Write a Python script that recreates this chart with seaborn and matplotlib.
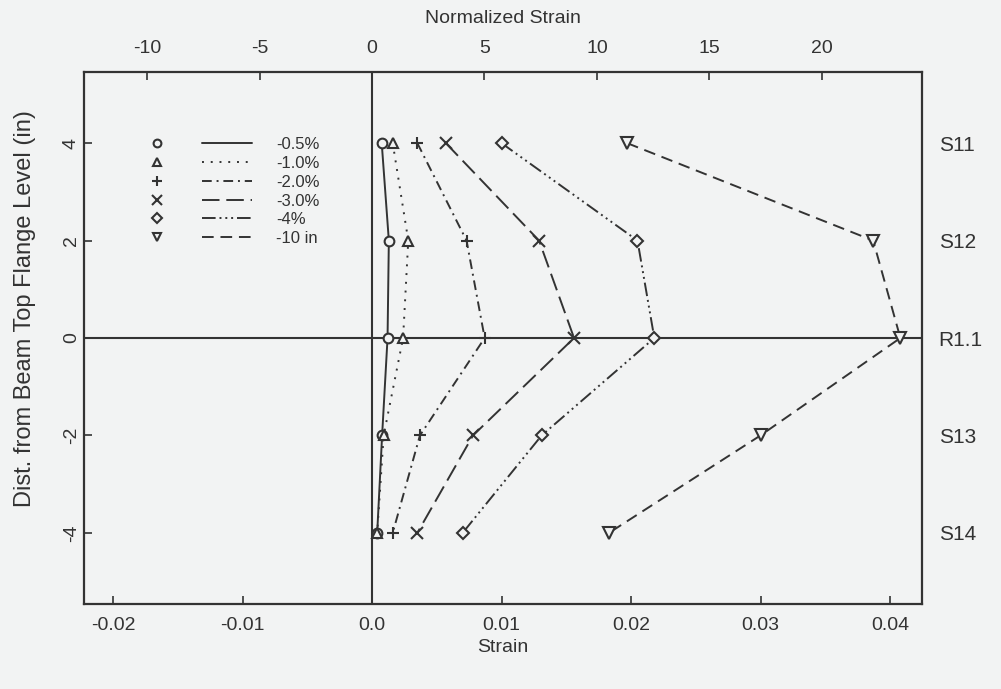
import matplotlib
matplotlib.use("Agg")
import matplotlib.pyplot as plt
import seaborn as sns
import pandas as pd
from matplotlib.lines import Line2D
from matplotlib.legend_handler import HandlerTuple

# Gauge levels relative to the beam top flange (in) and gauge names
levels = [4, 2, 0, -2, -4]
gauge_names = ["S11", "S12", "R1.1", "S13", "S14"]

# Measured strain at each level for each drift step
series_labels = ["-0.5%", "-1.0%", "-2.0%", "-3.0%", "-4%", "-10 in"]
strain_05 = [0.00075, 0.0013, 0.0012, 0.00078, 0.0004]
strain_10 = [0.0016, 0.0028, 0.0024, 0.0009, 0.0004]
strain_20 = [0.0035, 0.0073, 0.0087, 0.0037, 0.0016]
strain_30 = [0.0057, 0.0129, 0.0156, 0.0078, 0.0035]
strain_40 = [0.0100, 0.0205, 0.0218, 0.0131, 0.0070]
strain_10in = [0.0197, 0.0387, 0.0408, 0.0300, 0.0183]

yield_strain = 0.001737  # strain / yield strain gives the normalized strain

all_strains = [strain_05, strain_10, strain_20, strain_30, strain_40, strain_10in]

INK = "#333333"
PAPER = "#f2f3f3"

sns.set_theme(style="white")
plt.rcParams["font.family"] = ["Liberation Sans", "DejaVu Sans"]
plt.rcParams["axes.unicode_minus"] = False
plt.rcParams["text.color"] = INK
plt.rcParams["axes.labelcolor"] = INK
plt.rcParams["xtick.color"] = INK
plt.rcParams["ytick.color"] = INK

frames = []
for lab, vals in zip(series_labels, all_strains):
    frames.append(pd.DataFrame({"strain": vals, "level": levels, "step": lab}))
df = pd.concat(frames, ignore_index=True)

markers = ["o", "^", "+", "x", "D", "v"]
msizes = [7, 7, 9, 9, 6, 8]
dashes = ["-", (0, (1, 3.5)), (0, (5, 2.5, 1, 2.5)), (0, (9, 3.5)),
          (0, (7, 2, 1, 2, 1, 2, 1, 2)), (0, (6, 3.5))]

fig = plt.figure(figsize=(10.01, 6.89), dpi=100, facecolor=PAPER)
ax = fig.add_axes([84 / 1001, 1 - 604 / 689, (922 - 84) / 1001, (604 - 72) / 689])
ax.set_facecolor(PAPER)

ax.axhline(0, color=INK, lw=1.5, zorder=1)
ax.axvline(0, color=INK, lw=1.5, zorder=1)

handles = []
for lab, mk, ms, ls in zip(series_labels, markers, msizes, dashes):
    sub = df[df["step"] == lab]
    sns.lineplot(data=sub, x="strain", y="level", sort=False, estimator=None,
                 ax=ax, color=INK, lw=1.4, linestyle=ls, marker=mk,
                 markersize=ms, markerfacecolor=PAPER, markeredgecolor=INK,
                 markeredgewidth=1.5, zorder=3, legend=False)
    h_mark = Line2D([], [], linestyle="none", marker=mk, markersize=ms * 0.8,
                    markerfacecolor=PAPER, markeredgecolor=INK, markeredgewidth=1.5)
    h_line = Line2D([], [], color=INK, lw=1.4, linestyle=ls)
    handles.append((h_mark, h_line))

ax.set_xlim(-0.02224, 0.04247)
ax.set_ylim(-5.46, 5.46)
ax.set_xticks([-0.02, -0.01, 0.0, 0.01, 0.02, 0.03, 0.04])
ax.set_xticklabels(["-0.02", "-0.01", "0.0", "0.01", "0.02", "0.03", "0.04"])
ax.set_yticks(levels)
ax.set_yticklabels([str(v) for v in levels], rotation=90, va="center")
ax.set_xlabel("Strain", fontsize=14, labelpad=4)
ax.set_ylabel("Dist. from Beam Top Flange Level (in)", fontsize=17)
ax.yaxis.set_label_coords(-0.057, 0.555)
ax.tick_params(axis="both", which="major", direction="in", length=6, width=1.2,
               labelsize=14, bottom=True, left=True, top=False, right=False)
ax.tick_params(axis="x", pad=9)
ax.tick_params(axis="y", pad=3)
for sp in ax.spines.values():
    sp.set_visible(True)
    sp.set_color(INK)
    sp.set_linewidth(1.6)
ax.grid(False)

# Normalized strain along the top
top = ax.secondary_xaxis("top", functions=(lambda s: s / yield_strain,
                                           lambda n: n * yield_strain))
top.set_xticks([-10, -5, 0, 5, 10, 15, 20])
top.set_xlabel("Normalized Strain", fontsize=14, labelpad=12)
top.tick_params(direction="in", length=6, width=1.2, labelsize=14, pad=11, color=INK)

# Gauge names on the right
right = ax.secondary_yaxis("right")
right.set_yticks(levels)
right.set_yticklabels(gauge_names)
right.tick_params(length=0, labelsize=15, pad=12)

fs = 12
leg = ax.legend(handles, series_labels, handler_map={tuple: HandlerTuple(ndivide=None, pad=1.2)},
                loc="upper left", bbox_to_anchor=((132 - 84) / 838, (604 - 137) / 532),
                frameon=False, fontsize=fs, numpoints=1, handlelength=7.2,
                handleheight=0.7, handletextpad=1.45, labelspacing=0.23,
                borderpad=0, borderaxespad=0)
for t in leg.get_texts():
    t.set_color(INK)

fig.savefig("out.png", dpi=100, facecolor=PAPER)
